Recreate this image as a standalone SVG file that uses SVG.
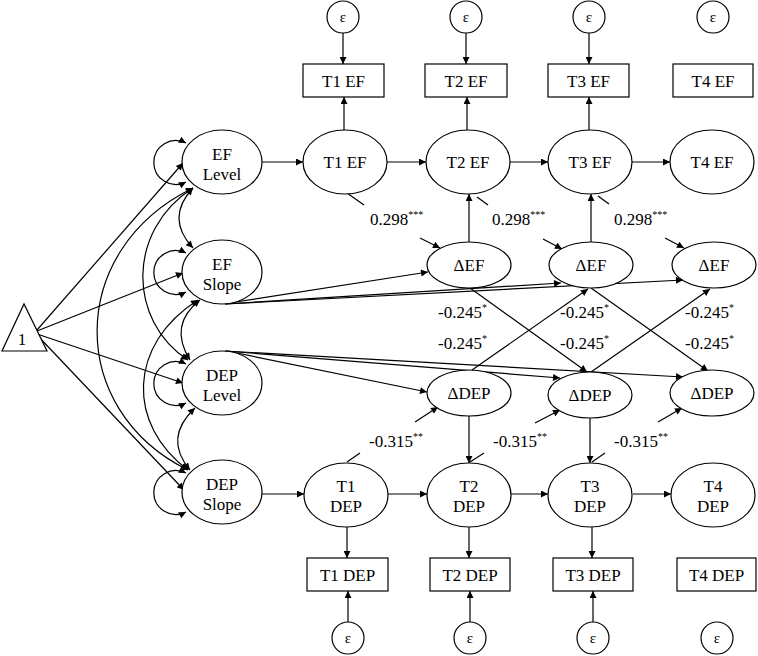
<svg xmlns="http://www.w3.org/2000/svg" width="758" height="656" viewBox="0 0 758 656" font-family="'Liberation Serif', 'Times New Roman', Tinos, 'DejaVu Serif', serif">
<defs>
<marker id="ah" viewBox="0 0 10 10" refX="10" refY="5" markerWidth="10" markerHeight="7" markerUnits="userSpaceOnUse" orient="auto-start-reverse">
<path d="M0,0 L10,5 L0,10 z" fill="#000"/>
</marker>
<style>
.n{fill:#fff;stroke:#000;stroke-width:1.2}
text{font-family:'Liberation Serif','Times New Roman',Tinos,'DejaVu Serif',serif;fill:#000}
.t{font-size:17px;text-anchor:middle}
.l{font-size:17px}
.s{font-size:10px}
.e{font-size:15px;text-anchor:middle}
.c line,.c path{stroke:#000;stroke-width:1.2;fill:none}
.a{marker-end:url(#ah)}
.d{marker-start:url(#ah);marker-end:url(#ah)}
</style>
</defs>
<rect width="758" height="656" fill="#fff"/>

<g id="connectors" class="c">
<line class="a" x1="343" y1="33" x2="343" y2="64"/>
<line class="a" x1="466" y1="33" x2="466" y2="64"/>
<line class="a" x1="589" y1="33" x2="589" y2="64"/>
<line class="a" x1="344" y1="130" x2="344" y2="97"/>
<line class="a" x1="467" y1="130" x2="467" y2="97"/>
<line class="a" x1="589" y1="130" x2="589" y2="97"/>
<line class="a" x1="262" y1="162" x2="303" y2="162"/>
<line class="a" x1="387" y1="162" x2="426" y2="162"/>
<line class="a" x1="510" y1="162" x2="548" y2="162"/>
<line class="a" x1="632" y1="162" x2="670" y2="162"/>
<line class="a" x1="469" y1="242" x2="469" y2="194"/>
<line class="a" x1="591" y1="242" x2="591" y2="194"/>
<line x1="347" y1="193" x2="364" y2="205"/>
<line class="a" x1="420" y1="238" x2="440" y2="248"/>
<line x1="477" y1="197" x2="488" y2="205"/>
<line class="a" x1="543" y1="239" x2="562" y2="249"/>
<line x1="598" y1="196" x2="609" y2="204"/>
<line class="a" x1="665" y1="238" x2="684" y2="248"/>
<line class="a" x1="229" y1="303" x2="428" y2="272"/>
<line class="a" x1="225" y1="304" x2="561" y2="283"/>
<line class="a" x1="225" y1="304" x2="683" y2="280"/>
<line class="a" x1="227" y1="351" x2="427" y2="392"/>
<line class="a" x1="225" y1="351" x2="560" y2="378"/>
<line class="a" x1="225" y1="351" x2="683" y2="377"/>
<line class="a" x1="470" y1="288" x2="587" y2="372"/>
<line class="a" x1="472" y1="370" x2="588" y2="289"/>
<line class="a" x1="591" y1="288" x2="708" y2="371"/>
<line class="a" x1="591" y1="372" x2="710" y2="289"/>
<line class="a" x1="469" y1="416" x2="469" y2="463"/>
<line class="a" x1="590" y1="418" x2="590" y2="463"/>
<line x1="347" y1="462" x2="360" y2="453"/>
<line class="a" x1="415" y1="422" x2="438" y2="407"/>
<line x1="470" y1="462" x2="484" y2="453"/>
<line class="a" x1="535" y1="423" x2="560" y2="410"/>
<line x1="592" y1="462" x2="605" y2="453"/>
<line class="a" x1="658" y1="422" x2="682" y2="408"/>
<line class="a" x1="262" y1="494" x2="304" y2="494"/>
<line class="a" x1="388" y1="494" x2="427" y2="494"/>
<line class="a" x1="511" y1="494" x2="548" y2="494"/>
<line class="a" x1="633" y1="494" x2="671" y2="494"/>
<line class="a" x1="347" y1="527" x2="347" y2="558"/>
<line class="a" x1="469" y1="527" x2="469" y2="558"/>
<line class="a" x1="592" y1="527" x2="592" y2="558"/>
<line class="a" x1="348" y1="622" x2="348" y2="591"/>
<line class="a" x1="470" y1="622" x2="470" y2="591"/>
<line class="a" x1="593" y1="622" x2="593" y2="591"/>
<line class="a" x1="37" y1="330" x2="183" y2="163"/>
<line class="a" x1="37" y1="331" x2="183" y2="273"/>
<line class="a" x1="37" y1="334" x2="183" y2="383"/>
<line class="a" x1="37" y1="335" x2="184" y2="490"/>
<path class="d" d="M186,143 A22,22 0 1 0 186,182"/>
<path class="d" d="M186,253 A22,22 0 1 0 186,292"/>
<path class="d" d="M186,364 A22,22 0 1 0 186,403"/>
<path class="d" d="M186,473 A22,22 0 1 0 186,512"/>
<path class="d" d="M193,188 Q165,218 193,248"/>
<path class="d" d="M200,300 Q168,325 190,360"/>
<path class="d" d="M195,408 Q163,438 190,470"/>
<path class="d" d="M193,188 C127,230 127,320 188,360"/>
<path class="d" d="M198,300 C127,345 127,425 188,470"/>
<path class="d" d="M193,188 C66,250 66,410 188,470"/>
</g>

<g id="one"><polygon class="n" points="2,351 47,351 24,304"/><text class="t" x="22" y="345">1</text></g>

<g id="ef_level"><ellipse class="n" cx="222" cy="162" rx="40" ry="32"/><text class="t" x="222" y="160">EF</text><text class="t" x="222" y="180">Level</text></g>
<g id="ef_slope"><ellipse class="n" cx="222" cy="272" rx="40" ry="32"/><text class="t" x="222" y="270">EF</text><text class="t" x="222" y="290">Slope</text></g>
<g id="dep_level"><ellipse class="n" cx="222" cy="383" rx="40" ry="32"/><text class="t" x="222" y="381">DEP</text><text class="t" x="222" y="401">Level</text></g>
<g id="dep_slope"><ellipse class="n" cx="222" cy="492" rx="40" ry="32"/><text class="t" x="222" y="490">DEP</text><text class="t" x="222" y="510">Slope</text></g>

<g id="eps_ef1"><circle class="n" cx="343" cy="17" r="16"/><text class="e" x="343" y="22">ε</text></g>
<g id="eps_ef2"><circle class="n" cx="466" cy="17" r="16"/><text class="e" x="466" y="22">ε</text></g>
<g id="eps_ef3"><circle class="n" cx="589" cy="17" r="16"/><text class="e" x="589" y="22">ε</text></g>
<g id="eps_ef4"><circle class="n" cx="713" cy="17" r="16"/><text class="e" x="713" y="22">ε</text></g>

<g id="box_ef1"><rect class="n" x="303" y="64" width="81" height="33"/><text class="t" x="343.5" y="87">T1 EF</text></g>
<g id="box_ef2"><rect class="n" x="425" y="64" width="82" height="33"/><text class="t" x="466" y="87">T2 EF</text></g>
<g id="box_ef3"><rect class="n" x="548" y="64" width="81" height="33"/><text class="t" x="588.5" y="87">T3 EF</text></g>
<g id="box_ef4"><rect class="n" x="673" y="64" width="80" height="33"/><text class="t" x="713" y="87">T4 EF</text></g>

<g id="ef1"><ellipse class="n" cx="345" cy="162" rx="42" ry="32"/><text class="t" x="345" y="168">T1 EF</text></g>
<g id="ef2"><ellipse class="n" cx="468" cy="162" rx="42" ry="32"/><text class="t" x="468" y="168">T2 EF</text></g>
<g id="ef3"><ellipse class="n" cx="590" cy="162" rx="42" ry="32"/><text class="t" x="590" y="168">T3 EF</text></g>
<g id="ef4"><ellipse class="n" cx="712" cy="162" rx="42" ry="32"/><text class="t" x="712" y="168">T4 EF</text></g>

<g id="def1"><ellipse class="n" cx="469" cy="265" rx="42" ry="23"/><text class="t" x="469" y="271">ΔEF</text></g>
<g id="def2"><ellipse class="n" cx="591" cy="265" rx="42" ry="23"/><text class="t" x="591" y="271">ΔEF</text></g>
<g id="def3"><ellipse class="n" cx="714" cy="265" rx="42" ry="23"/><text class="t" x="714" y="271">ΔEF</text></g>

<g id="ddep1"><ellipse class="n" cx="469" cy="393" rx="42" ry="23"/><text class="t" x="469" y="399">ΔDEP</text></g>
<g id="ddep2"><ellipse class="n" cx="590" cy="395" rx="42" ry="23"/><text class="t" x="590" y="401">ΔDEP</text></g>
<g id="ddep3"><ellipse class="n" cx="712" cy="393" rx="42" ry="23"/><text class="t" x="712" y="399">ΔDEP</text></g>

<g id="dep1"><ellipse class="n" cx="346" cy="495" rx="42" ry="32"/><text class="t" x="346" y="492">T1</text><text class="t" x="346" y="512">DEP</text></g>
<g id="dep2"><ellipse class="n" cx="469" cy="495" rx="42" ry="32"/><text class="t" x="469" y="492">T2</text><text class="t" x="469" y="512">DEP</text></g>
<g id="dep3"><ellipse class="n" cx="590" cy="495" rx="42" ry="32"/><text class="t" x="590" y="492">T3</text><text class="t" x="590" y="512">DEP</text></g>
<g id="dep4"><ellipse class="n" cx="713" cy="495" rx="42" ry="32"/><text class="t" x="713" y="492">T4</text><text class="t" x="713" y="512">DEP</text></g>

<g id="box_dep1"><rect class="n" x="307" y="558" width="81" height="33"/><text class="t" x="347.5" y="581">T1 DEP</text></g>
<g id="box_dep2"><rect class="n" x="430" y="558" width="80" height="33"/><text class="t" x="470" y="581">T2 DEP</text></g>
<g id="box_dep3"><rect class="n" x="553" y="558" width="80" height="33"/><text class="t" x="593" y="581">T3 DEP</text></g>
<g id="box_dep4"><rect class="n" x="677" y="558" width="79" height="33"/><text class="t" x="716.5" y="581">T4 DEP</text></g>

<g id="eps_dep1"><circle class="n" cx="348" cy="638" r="16"/><text class="e" x="348" y="643">ε</text></g>
<g id="eps_dep2"><circle class="n" cx="470" cy="638" r="16"/><text class="e" x="470" y="643">ε</text></g>
<g id="eps_dep3"><circle class="n" cx="593" cy="638" r="16"/><text class="e" x="593" y="643">ε</text></g>
<g id="eps_dep4"><circle class="n" cx="717" cy="638" r="16"/><text class="e" x="717" y="643">ε</text></g>

<g id="labels">
<text class="l" x="370" y="225">0.298<tspan class="s" dy="-7">***</tspan></text>
<text class="l" x="492" y="225">0.298<tspan class="s" dy="-7">***</tspan></text>
<text class="l" x="614" y="225">0.298<tspan class="s" dy="-7">***</tspan></text>
<text class="l" x="438" y="318">-0.245<tspan class="s" dy="-7">*</tspan></text>
<text class="l" x="560" y="318">-0.245<tspan class="s" dy="-7">*</tspan></text>
<text class="l" x="685" y="318">-0.245<tspan class="s" dy="-7">*</tspan></text>
<text class="l" x="438" y="349">-0.245<tspan class="s" dy="-7">*</tspan></text>
<text class="l" x="560" y="349">-0.245<tspan class="s" dy="-7">*</tspan></text>
<text class="l" x="685" y="349">-0.245<tspan class="s" dy="-7">*</tspan></text>
<text class="l" x="369" y="447">-0.315<tspan class="s" dy="-7">**</tspan></text>
<text class="l" x="493" y="447">-0.315<tspan class="s" dy="-7">**</tspan></text>
<text class="l" x="614" y="447">-0.315<tspan class="s" dy="-7">**</tspan></text>
</g>
</svg>
